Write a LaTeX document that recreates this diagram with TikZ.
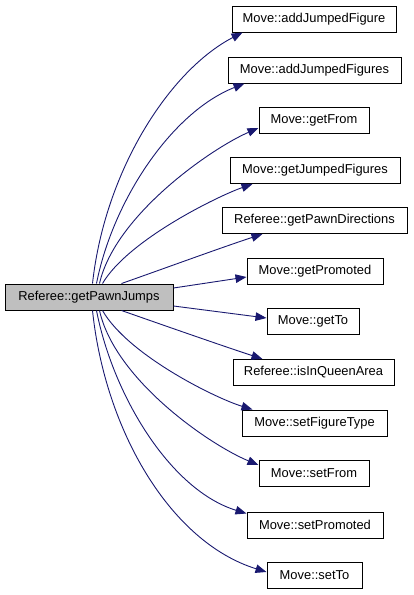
\documentclass[tikz,border=0pt]{standalone}
\usepackage{fontspec}
\setmainfont{Liberation Sans}
\usetikzlibrary{arrows.meta,calc}
\definecolor{edgeblue}{HTML}{191970}
\definecolor{srcgray}{HTML}{BFBFBF}
\begin{document}
\begin{tikzpicture}[x=1pt,y=-1pt,
  fn/.style={draw=black,line width=1pt,fill=white,minimum height=26pt,inner sep=0pt,
    font=\fontsize{12.9}{15}\selectfont,anchor=center},
  srcbox/.style={fn,fill=srcgray},
  call/.style={draw=edgeblue,line width=0.9pt,-{Triangle[length=11pt,width=8.5pt]},edgeblue}
]
\useasboundingbox (0,0) rectangle (413,595);
\node[srcbox,minimum width=168pt] (src) at (89,297) {Referee::getPawnJumps};
\node[fn,minimum width=164pt] (t1) at (314,19) {Move::addJumpedFigure};
\node[fn,minimum width=173pt] (t2) at (314.5,70) {Move::addJumpedFigures};
\node[fn,minimum width=110pt] (t3) at (314,120.5) {Move::getFrom};
\node[fn,minimum width=170pt] (t4) at (315,170.5) {Move::getJumpedFigures};
\node[fn,minimum width=185pt] (t5) at (314.5,220.5) {Referee::getPawnDirections};
\node[fn,minimum width=136pt] (t6) at (315,271.5) {Move::getPromoted};
\node[fn,minimum width=92pt] (t7) at (313,321.5) {Move::getTo};
\node[fn,minimum width=161pt] (t8) at (313.5,372.5) {Referee::isInQueenArea};
\node[fn,minimum width=145pt] (t9) at (314.5,423) {Move::setFigureType};
\node[fn,minimum width=110pt] (t10) at (314,473.5) {Move::setFrom};
\node[fn,minimum width=136pt] (t11) at (315,525) {Move::setPromoted};
\node[fn,minimum width=95pt] (t12) at (314.5,575) {Move::setTo};

\draw[call] ($(src.north west)+(88,0)$) .. controls (105,170) and (170,70) .. ($(t1.south west)+(11,0)$);
\draw[call] ($(src.north west)+(92,0)$) .. controls (113,200) and (172,112) .. ($(t2.south west)+(17,0)$);
\draw[call] ($(src.north west)+(95,0)$) .. controls (115,215) and (212,148) .. ($(t3.west)+(0,7.5)$);
\draw[call] ($(src.north west)+(98,0)$) .. controls (128,240) and (218,196) .. ($(t4.south west)+(23,0)$);
\draw[call] ($(src.north west)+(117,0)$) .. controls (160,270) and (220,248) .. ($(t5.south west)+(41,0)$);
\draw[call] ($(src.east)+(0,-9)$) -- ($(t6.west)+(0,5.5)$);
\draw[call] ($(src.east)+(0,9)$) -- ($(t7.west)+(0,-3.5)$);
\draw[call] ($(src.south west)+(117,0)$) .. controls (160,324) and (220,345) .. ($(t8.north west)+(30,0)$);
\draw[call] ($(src.south west)+(98,0)$) .. controls (128,355) and (215,398) .. ($(t9.north west)+(11,0)$);
\draw[call] ($(src.south west)+(95,0)$) .. controls (115,380) and (210,445) .. ($(t10.west)+(0,-8.5)$);
\draw[call] ($(src.south west)+(92,0)$) .. controls (113,395) and (170,490) .. ($(t11.west)+(0,-11.5)$);
\draw[call] ($(src.south west)+(88,0)$) .. controls (105,430) and (170,542) .. ($(t12.west)+(0,-3)$);
\end{tikzpicture}
\end{document}
